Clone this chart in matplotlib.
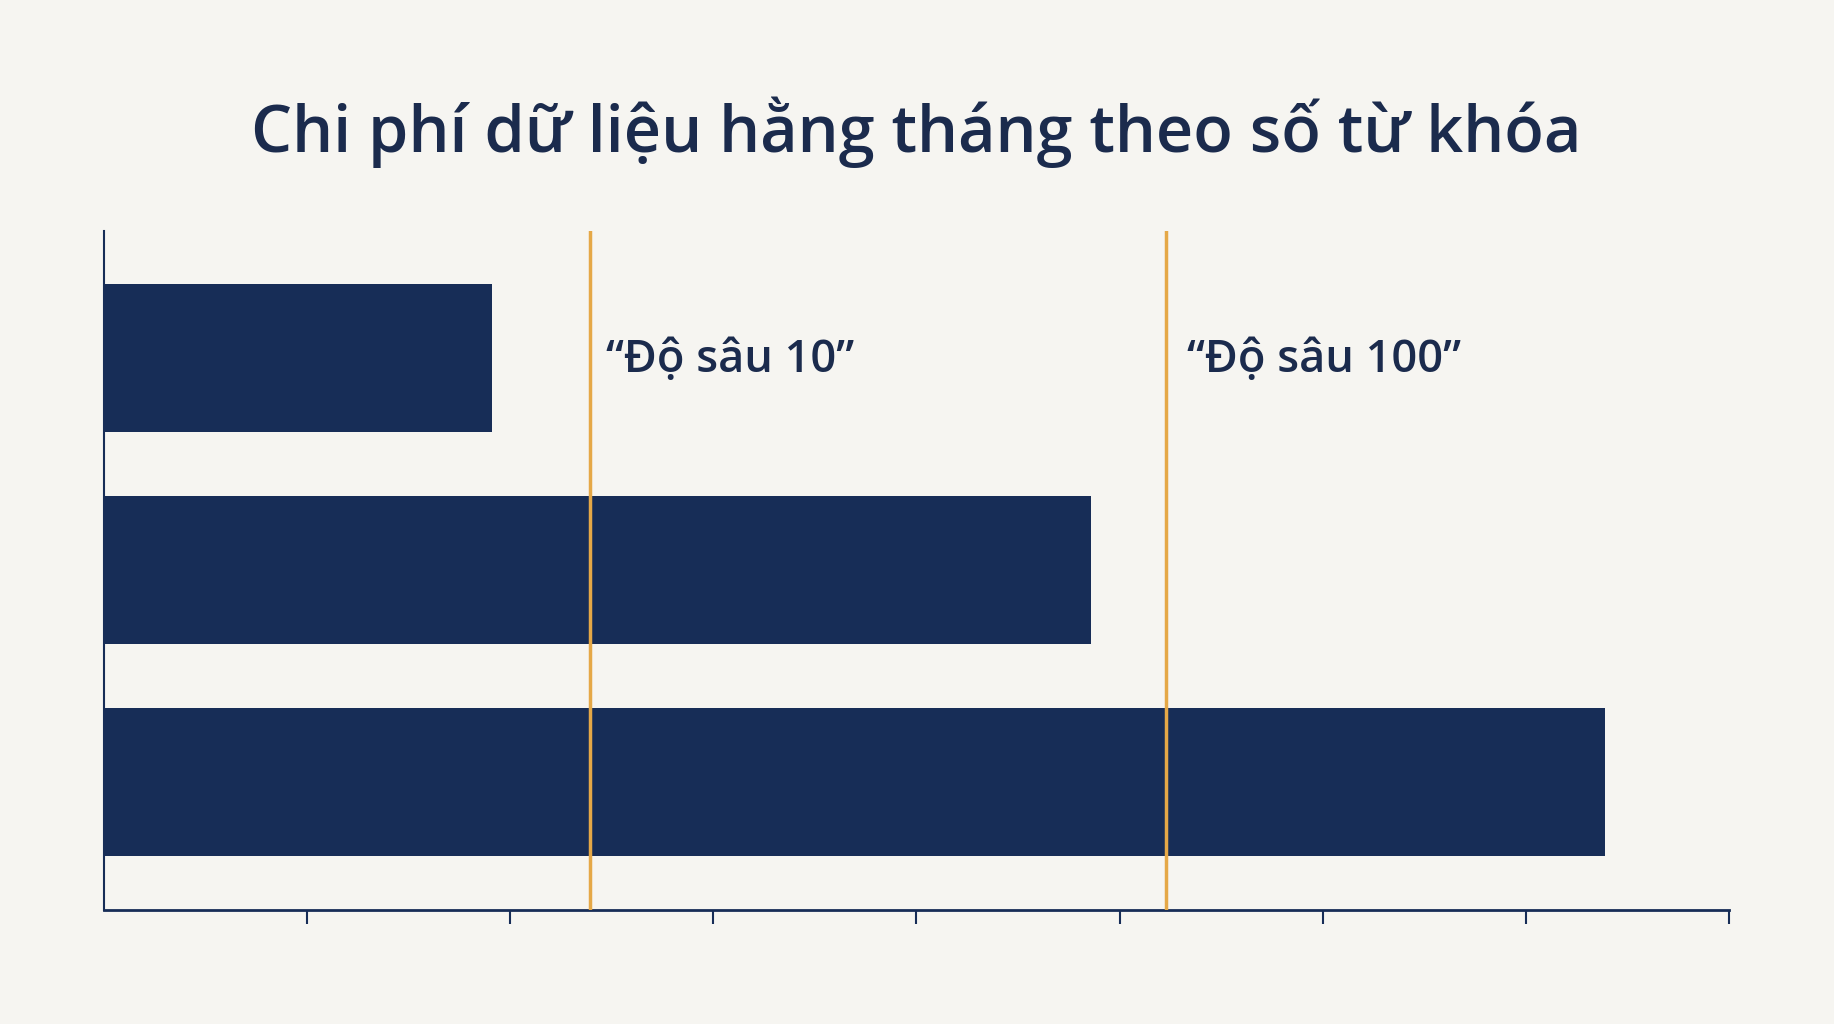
import matplotlib.pyplot as plt

# data (x in tick units, no labels shown)
bar_pos = [2, 1, 0]
bar_len = [1.91, 4.86, 7.39]
depth_x = [2.39, 5.23]
depth_labels = ["\u201cĐộ sâu 10\u201d", "\u201cĐộ sâu 100\u201d"]
label_x = [2.47, 5.33]
tick_pos = [1, 2, 3, 4, 5, 6, 7, 8]

navy = '#172d57'
text_col = '#1b2b4d'
orange = '#e5a847'
bg = '#f6f5f1'

plt.rcParams['font.family'] = ['Open Sans', 'DejaVu Sans']

fig = plt.figure(figsize=(18.34, 10.24), dpi=100, facecolor=bg)
ax = fig.add_axes([0.0568, 0.1109, 0.8858, 0.664])
ax.set_facecolor(bg)

ax.barh(bar_pos, bar_len, height=0.7, color=navy, zorder=2)
for x in depth_x:
    ax.axvline(x, color=orange, lw=2.5, zorder=3)
for x, t in zip(label_x, depth_labels):
    ax.text(x, 1.99, t, fontsize=32.5, color=text_col, va='center', ha='left',
            fontweight='semibold')

ax.set_xlim(0, 8)
ax.set_ylim(-0.608, 2.602)
ax.set_xticks(tick_pos)
ax.set_xticklabels([])
ax.set_yticks([])
for s in ['top', 'right']:
    ax.spines[s].set_visible(False)
ax.spines['left'].set_color(navy)
ax.spines['left'].set_linewidth(1.5)
ax.spines['bottom'].set_color(navy)
ax.spines['bottom'].set_linewidth(2)
ax.tick_params(axis='x', length=10, width=1.5, color=navy, direction='out')

fig.text(0.4995, 0.871, "Chi phí dữ liệu hằng tháng theo số từ khóa",
         fontsize=46.6, color=text_col, ha='center', va='center', fontweight='semibold')

plt.savefig('out.png', dpi=100, facecolor=bg)
